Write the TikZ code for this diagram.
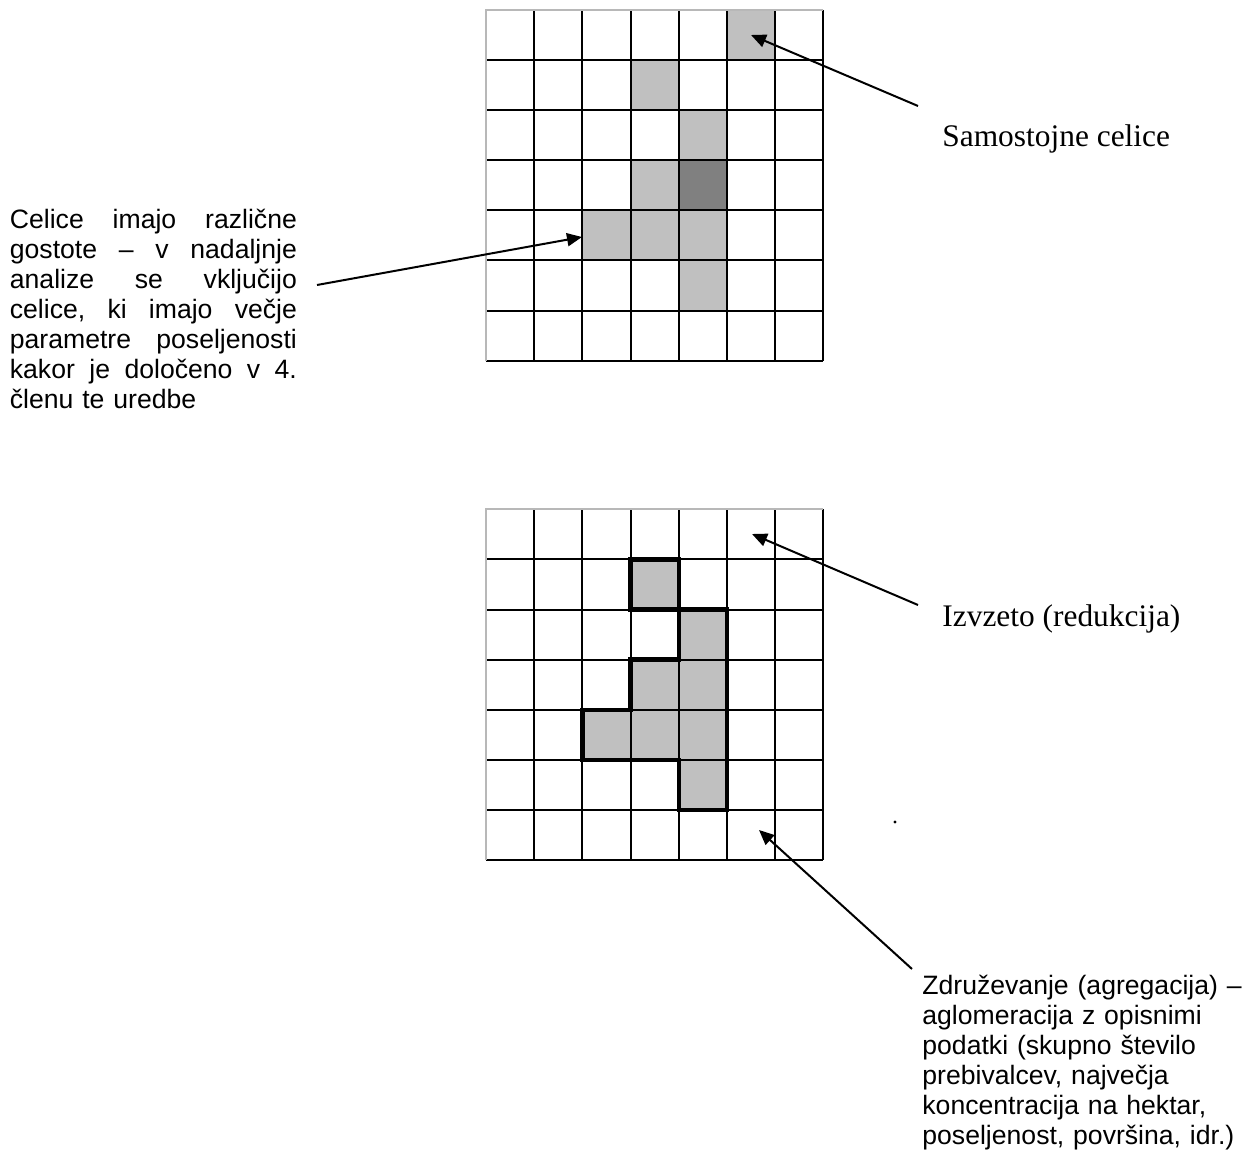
\documentclass[tikz,border=0pt]{standalone}
\usepackage{fontspec}
\setmainfont{Liberation Serif}
\newfontfamily\sansf{Liberation Sans}
\usetikzlibrary{arrows.meta}
\definecolor{cellgray}{HTML}{C0C0C0}
\definecolor{darkcell}{HTML}{808080}
\definecolor{edgegray}{HTML}{B8B8B8}
\tikzset{
  gridline/.style={line width=1pt, black},
  edgeline/.style={line width=1pt, edgegray},
  outline/.style={line width=2.2pt, black, line join=miter},
  pointer/.style={line width=1pt, -{Triangle[length=7.5pt,width=6.5pt]}},
  sanstext/.style={font=\sansf\fontsize{13.3}{15}\selectfont, inner sep=0pt, align=left},
  seriftext/.style={font=\fontsize{15.7}{18}\selectfont, inner sep=0pt},
}
\newcommand\jline[1]{\leavevmode\hbox to 143.5pt{#1}\par}
\begin{document}
\begin{tikzpicture}[x=0.5pt,y=-0.5pt]
\useasboundingbox (0,0) rectangle (1252,1154);
\fill[white] (0,0) rectangle (1252,1154);

% top grid
\begin{scope}[xshift=243pt, yshift=-5pt, x=24.1pt, y=-25.05pt]
  \foreach \c/\r in {5/0,3/1,4/2,3/3,2/4,3/4,4/4,4/5}
    \fill[cellgray] (\c,\r) rectangle ++(1,1);
  \fill[darkcell] (4,3) rectangle ++(1,1);
  \foreach \i in {1,...,7} {
    \draw[gridline] (\i,0) -- (\i,7);
    \draw[gridline] (0,\i) -- (7,\i);
  }
  \draw[edgeline] (0,7) -- (0,0) -- (7,0);
\end{scope}

% bottom grid
\begin{scope}[xshift=243pt, yshift=-254.65pt, x=24.1pt, y=-25.05pt]
  \foreach \c/\r in {3/1,4/2,3/3,4/3,2/4,3/4,4/4,4/5}
    \fill[cellgray] (\c,\r) rectangle ++(1,1);
  \foreach \i in {1,...,7} {
    \draw[gridline] (\i,0) -- (\i,7);
    \draw[gridline] (0,\i) -- (7,\i);
  }
  \draw[edgeline] (0,7) -- (0,0) -- (7,0);
  \draw[outline] (3,1) rectangle (4,2);
  \draw[outline] (4,2) -- (5,2) -- (5,6) -- (4,6) -- (4,5) -- (2,5) -- (2,4)
     -- (3,4) -- (3,3) -- (4,3) -- cycle;
\end{scope}

% texts
\node[sanstext, anchor=base west, text width=143.5pt] (lefttext) at (9.5,229) {%
\jline{Celice\hfill imajo\hfill različne}%
\jline{gostote\hfill –\hfill v\hfill nadaljnje}%
\jline{analize\hfill se\hfill vključijo}%
\jline{celice,\hfill ki\hfill imajo\hfill večje}%
\jline{parametre\hfill poseljenosti}%
\jline{kakor\hfill je\hfill določeno\hfill v\hfill 4.}%
členu te uredbe};

\node[seriftext, anchor=base west] (samost) at (942,147) {Samostojne celice};
\node[seriftext, anchor=base west] (izvz) at (942,626) {Izvzeto (redukcija)};

\node[sanstext, anchor=base west, text width=170pt] (zdruz) at (922,994) {%
Združevanje (agregacija) –\\
aglomeracija z opisnimi\\
podatki (skupno število\\
prebivalcev, največja\\
koncentracija na hektar,\\
poseljenost, površina, idr.)};

% connector ends
\coordinate (s1) at (918,106);
\coordinate (t1) at (751,35);
\coordinate (s2) at (317,285);
\coordinate (t2) at (582,237);
\coordinate (s3) at (918,605);
\coordinate (t3) at (752,534);
\coordinate (s4) at (912,969);
\coordinate (t4) at (759,830);

\draw[pointer] (s1) -- (t1);
\draw[pointer] (s2) -- (t2);
\draw[pointer] (s3) -- (t3);
\draw[pointer] (s4) -- (t4);

\coordinate (dot) at (895,822);
\fill (dot) circle[radius=0.8pt];
\end{tikzpicture}
\end{document}
